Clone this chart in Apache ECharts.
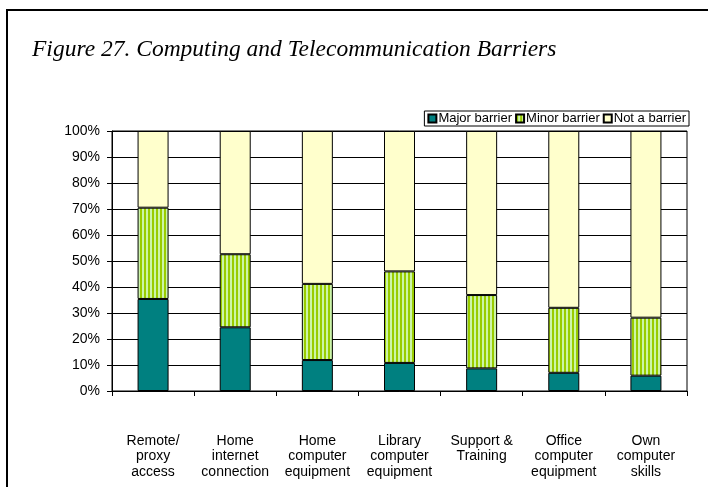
<!DOCTYPE html>
<html>
<head>
<meta charset="utf-8">
<script src="https://cdn.jsdelivr.net/npm/echarts@6/dist/echarts.min.js"></script>
<style>
  html, body { margin: 0; padding: 0; background: #fff; }
  #chart { width: 708px; height: 487px; }
</style>
</head>
<body>
<div id="chart"></div>
<script>
var categories = ['Remote/\nproxy\naccess', 'Home\ninternet\nconnection', 'Home\ncomputer\nequipment',
    'Library\ncomputer\nequipment', 'Support &\nTraining', 'Office\ncomputer\nequipment', 'Own\ncomputer\nskills'];
var majorBarrier = [35.4, 24.5, 11.9, 10.8, 8.7, 7.0, 5.9];
var minorBarrier = [35.1, 28.1, 29.3, 35.2, 28.2, 25.0, 22.3];
var notBarrier = [29.5, 47.4, 58.8, 54.0, 63.1, 68.0, 71.8];

// vertical stripes like the Excel pattern fill
var stripe = document.createElement('canvas');
stripe.width = 4;
stripe.height = 4;
var ctx = stripe.getContext('2d');
ctx.fillStyle = '#ccf5a8';
ctx.fillRect(0, 0, 4, 4);
ctx.fillStyle = '#99cc00';
ctx.fillRect(0, 0, 2, 4);

var myChart = echarts.init(document.getElementById('chart'));
var labelFont = { fontFamily: 'Liberation Sans', fontSize: 14, color: '#000' };
var option = {
    animation: false,
    title: {
        text: 'Figure 27. Computing and Telecommunication Barriers',
        left: 27,
        top: 33,
        textStyle: {
            fontFamily: 'Liberation Serif',
            fontStyle: 'italic',
            fontWeight: 'normal',
            fontSize: 23.5,
            color: '#000'
        }
    },
    graphic: [{
        type: 'polyline',
        shape: { points: [[7, 487], [7, 10], [708, 10]] },
        style: { stroke: '#000', lineWidth: 2, fill: null }
    }],
    legend: {
        data: ['Major barrier', 'Minor barrier', 'Not a barrier'],
        right: 19,
        top: 111,
        padding: [1, 3, 1, 3],
        itemGap: 3,
        itemWidth: 8,
        itemHeight: 8,
        icon: 'rect',
        borderColor: '#000',
        borderWidth: 1,
        backgroundColor: '#fff',
        textStyle: { fontFamily: 'Liberation Sans', fontSize: 13, color: '#000', padding: [0, 0, 0, -3] }
    },
    grid: {
        left: 112,
        right: 21,
        top: 131,
        bottom: 96,
        show: true,
        borderColor: '#000',
        borderWidth: 1
    },
    xAxis: {
        type: 'category',
        data: categories,
        axisLine: { lineStyle: { color: '#000' } },
        axisTick: { show: true, length: 5, lineStyle: { color: '#000' } },
        axisLabel: Object.assign({ interval: 0, margin: 42, lineHeight: 15.5, verticalAlign: 'top' }, labelFont)
    },
    yAxis: {
        type: 'value',
        min: 0,
        max: 100,
        interval: 10,
        axisLine: { show: true, lineStyle: { color: '#000' } },
        axisTick: { show: true, length: 5, lineStyle: { color: '#000' } },
        axisLabel: Object.assign({ formatter: '{value}%', margin: 12 }, labelFont),
        splitLine: { lineStyle: { color: '#000', width: 1 } }
    },
    series: [
        {
            name: 'Major barrier',
            type: 'bar',
            stack: 'total',
            barWidth: 31,
            data: majorBarrier,
            itemStyle: { color: '#008080', borderColor: '#000', borderWidth: 1 }
        },
        {
            name: 'Minor barrier',
            type: 'bar',
            stack: 'total',
            barWidth: 31,
            data: minorBarrier,
            itemStyle: { color: { image: stripe, repeat: 'repeat' }, borderColor: '#000', borderWidth: 1 }
        },
        {
            name: 'Not a barrier',
            type: 'bar',
            stack: 'total',
            barWidth: 31,
            data: notBarrier,
            itemStyle: { color: '#ffffcc', borderColor: '#000', borderWidth: 1 }
        }
    ]
};
myChart.setOption(option);
</script>
</body>
</html>
